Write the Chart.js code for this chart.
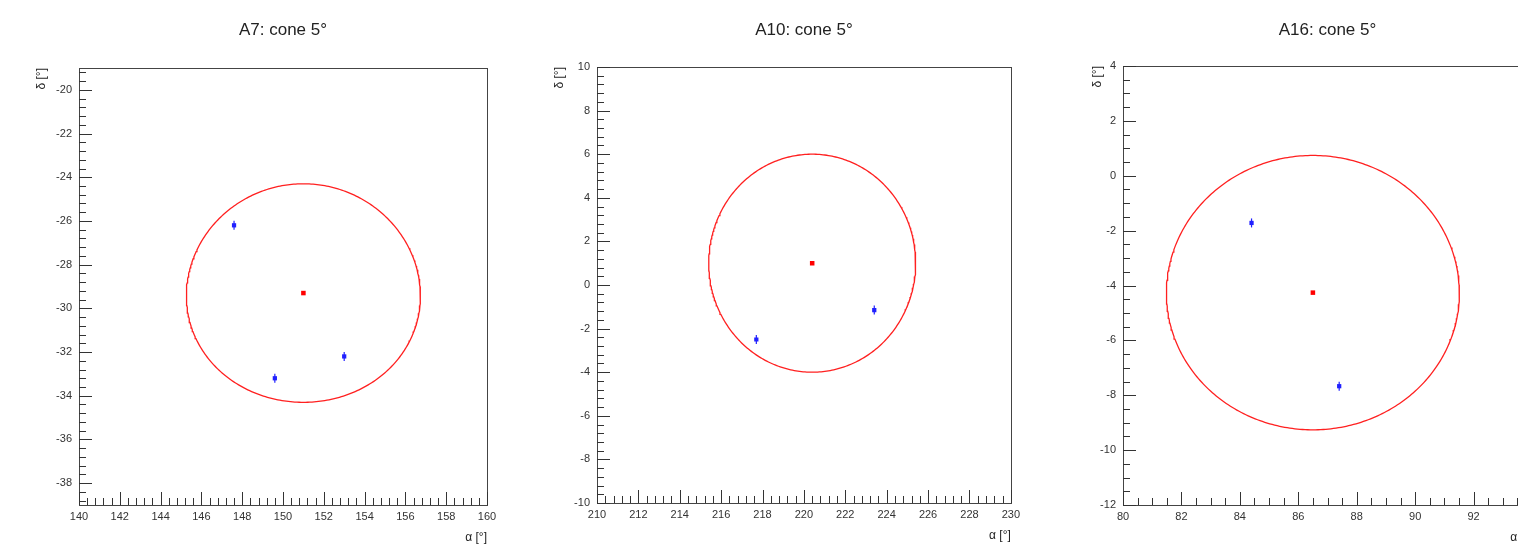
<!DOCTYPE html>
<html>
<head>
<meta charset="utf-8">
<script src="https://cdn.jsdelivr.net/npm/chart.js@4/dist/chart.umd.min.js"></script>
<style>
  html, body { margin: 0; padding: 0; background: #fff; width: 1518px; height: 554px; overflow: hidden; }
  .panel { position: absolute; top: 0; }
</style>
</head>
<body>
<div class="panel" style="left:0px"><canvas id="c0" width="505" height="554"></canvas></div>
<div class="panel" style="left:505px"><canvas id="c1" width="520" height="554"></canvas></div>
<div class="panel" style="left:1025px"><canvas id="c2" width="540" height="554"></canvas></div>
<script>
// Event arrival directions around three source candidates, 5 degree search cones
const panelTitles = ['A7: cone 5°', 'A10: cone 5°', 'A16: cone 5°'];
const coneRadiusDeg = 5;

// cone centres (right ascension / declination, degrees)
const centreRA  = [151.0, 220.4, 86.5];
const centreDec = [-29.3, 1.0, -4.26];

// events inside each cone
const eventRA  = [[147.6, 153.0, 149.6], [223.4, 217.7], [84.4, 87.4]];
const eventDec = [[-26.2, -32.2, -33.2], [-1.15, -2.5], [-1.72, -7.67]];

// axis ranges
const raMin  = [140, 210, 80];
const raMax  = [160, 230, 94];
const decMin = [-39, -10, -12];
const decMax = [-19, 10, 4];

// labelled tick values
const raTicks = [
  [140, 142, 144, 146, 148, 150, 152, 154, 156, 158, 160],
  [210, 212, 214, 216, 218, 220, 222, 224, 226, 228, 230],
  [80, 82, 84, 86, 88, 90, 92, 94]
];
const decTicks = [
  [-38, -36, -34, -32, -30, -28, -26, -24, -22, -20],
  [-10, -8, -6, -4, -2, 0, 2, 4, 6, 8, 10],
  [-12, -10, -8, -6, -4, -2, 0, 2, 4]
];
const tickStep = 2;
const minorDivs = [5, 5, 4];

const xTitle = 'α [°]';
const yTitle = 'δ [°]';

// frame geometry per canvas: y-axis box width, right padding, top padding, x-axis box height
const frames = [
  { left: 79, right: 18, top: 68, bottom: 49 },
  { left: 92, right: 13, top: 67, bottom: 51 },
  { left: 98, right: 33, top: 66, bottom: 49 }
];

const D2R = Math.PI / 180;

// points on the sky at a fixed angular distance from the centre
function coneOutline(ra0, dec0, r) {
  const pts = [];
  const d0 = dec0 * D2R, rr = r * D2R;
  for (let b = 0; b <= 360; b += 1) {
    const th = b * D2R;
    const sd = Math.sin(d0) * Math.cos(rr) + Math.cos(d0) * Math.sin(rr) * Math.cos(th);
    const dec = Math.asin(sd);
    const dra = Math.atan2(Math.sin(th) * Math.sin(rr) * Math.cos(d0), Math.cos(rr) - Math.sin(d0) * sd);
    pts.push({ x: ra0 + dra / D2R, y: dec / D2R });
  }
  return pts;
}

const FONT = "'Liberation Sans', Arial, sans-serif";

// frame, inward tick marks, titles
const framePlugin = {
  id: 'framePlugin',
  afterDraw(chart, args, opts) {
    const ctx = chart.ctx;
    const a = chart.chartArea;
    const xs = chart.scales.x, ys = chart.scales.y;
    ctx.save();
    ctx.strokeStyle = '#444';
    ctx.lineWidth = 1;
    ctx.strokeRect(Math.round(a.left) + 0.5, Math.round(a.top) + 0.5,
                   Math.round(a.right - a.left), Math.round(a.bottom - a.top));
    const nMinor = opts.minor;
    const drawTicks = (scale, horiz) => {
      const ticks = scale.ticks.map(t => t.value);
      const step = tickStep / nMinor;
      const lo = scale.min, hi = scale.max;
      const start = Math.ceil((lo - 1e-9) / step) * step;
      ctx.beginPath();
      for (let v = start; v <= hi + 1e-9; v += step) {
        const isMajor = ticks.some(t => Math.abs(t - v) < 1e-6);
        const len = isMajor ? 13 : 7;
        const p = Math.round(scale.getPixelForValue(v)) + 0.5;
        if (horiz) {
          ctx.moveTo(p, a.bottom);
          ctx.lineTo(p, a.bottom - len);
        } else {
          ctx.moveTo(a.left, p);
          ctx.lineTo(a.left + len, p);
        }
      }
      ctx.stroke();
    };
    ctx.strokeStyle = '#333';
    drawTicks(xs, true);
    drawTicks(ys, false);

    ctx.fillStyle = '#222';
    ctx.font = '17px ' + FONT;
    ctx.textAlign = 'center';
    ctx.textBaseline = 'middle';
    ctx.fillText(opts.title, (a.left + a.right) / 2, 30);

    ctx.font = '12px ' + FONT;
    ctx.textAlign = 'right';
    ctx.fillText(xTitle, a.right, a.bottom + 33);

    ctx.translate(a.left - opts.yTitleOffset, a.top);
    ctx.rotate(-Math.PI / 2);
    ctx.textAlign = 'right';
    ctx.fillText(yTitle, 0, 0);
    ctx.restore();
  }
};

function buildPanel(i) {
  const f = frames[i];
  const events = eventRA[i].map((ra, k) => ({ x: ra, y: eventDec[i][k] }));
  const centre = [{ x: centreRA[i], y: centreDec[i] }];
  new Chart(document.getElementById('c' + i), {
    type: 'scatter',
    data: {
      datasets: [
        {
          label: 'cone',
          data: coneOutline(centreRA[i], centreDec[i], coneRadiusDeg),
          showLine: true,
          borderColor: '#ff2020',
          borderWidth: 1.3,
          pointRadius: 0,
          fill: false,
          tension: 0
        },
        {
          label: 'centre',
          data: centre,
          pointStyle: 'rect',
          pointRadius: 3.2,
          backgroundColor: '#ff0000',
          borderColor: '#ff0000',
          borderWidth: 0
        },
        {
          label: 'events',
          data: events,
          pointStyle: 'rect',
          pointRadius: 3,
          backgroundColor: '#2020ff',
          borderColor: '#2020ff',
          borderWidth: 0
        },
        {
          label: 'events-err',
          data: events,
          pointStyle: 'line',
          rotation: 90,
          pointRadius: 4.5,
          borderColor: '#2020ff',
          borderWidth: 1.2
        }
      ]
    },
    options: {
      responsive: false,
      animation: false,
      events: [],
      layout: { padding: { top: f.top, right: f.right, left: 0, bottom: 0 } },
      plugins: {
        legend: { display: false },
        tooltip: { enabled: false },
        framePlugin: { title: panelTitles[i], minor: minorDivs[i], yTitleOffset: i === 2 ? 25 : 37 }
      },
      scales: {
        x: {
          type: 'linear',
          min: raMin[i],
          max: raMax[i],
          grid: { display: false, drawTicks: false },
          border: { display: true, color: '#333', width: 1 },
          afterBuildTicks(s) { s.ticks = raTicks[i].map(v => ({ value: v })); },
          ticks: {
            autoSkip: false,
            maxRotation: 0,
            padding: 5,
            color: '#333',
            font: { family: FONT, size: 11 }
          },
          afterFit(s) { s.height = f.bottom; }
        },
        y: {
          type: 'linear',
          min: decMin[i],
          max: decMax[i],
          grid: { display: false, drawTicks: false },
          border: { display: true, color: '#333', width: 1 },
          afterBuildTicks(s) { s.ticks = decTicks[i].map(v => ({ value: v })); },
          ticks: {
            autoSkip: false,
            padding: 7,
            color: '#333',
            font: { family: FONT, size: 11 }
          },
          afterFit(s) { s.width = f.left; }
        }
      }
    },
    plugins: [framePlugin]
  });
}

[0, 1, 2].forEach(buildPanel);
</script>
</body>
</html>
